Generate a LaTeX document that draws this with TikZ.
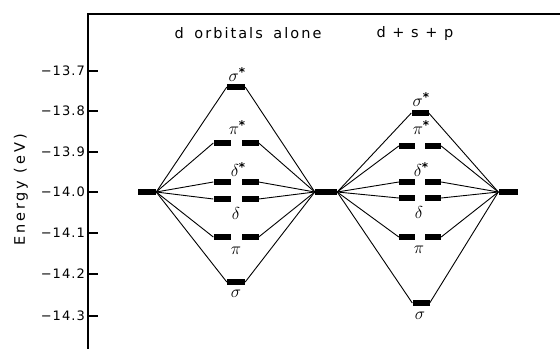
\documentclass[tikz,border=0pt]{standalone}
\usepackage{fontspec}
\setmainfont{DejaVu Sans}
\newfontfamily\lblfont[LetterSpace=8]{DejaVu Sans}
\newfontfamily\ttlfont[LetterSpace=14]{DejaVu Sans}
\newfontfamily\ylfont[LetterSpace=20]{DejaVu Sans}
\newcommand{\st}{\raisebox{5pt}{\fontsize{12}{12}\selectfont\bfseries *}}
\begin{document}
\begin{tikzpicture}[x=1pt,y=-1pt,
  bar/.style={fill=black,draw=none,inner sep=0pt,minimum height=6pt},
  conn/.style={line width=0.9pt},
  ax/.style={line width=1.3pt},
  ticklbl/.style={font=\lblfont\fontsize{13}{15}\selectfont,anchor=east,inner sep=0pt},
  ttl/.style={font=\ttlfont\fontsize{14.5}{16}\selectfont,inner sep=0pt},
  ylbl/.style={font=\ylfont\fontsize{14.5}{16}\selectfont,inner sep=0pt},
  greek/.style={font=\fontsize{16}{18}\selectfont,inner sep=0pt}]
\useasboundingbox (0,0) rectangle (560,349);
% axes
\coordinate (axtop) at (88,14);
\coordinate (axbot) at (88,349);
\coordinate (topr) at (560,14);
\draw[ax] (topr) -- (axtop) -- (axbot);
\foreach \v/\y [count=\i] in {13.7/71,13.8/111,13.9/152,14.0/192,14.1/233,14.2/274,14.3/316}{
  \coordinate (ta\i) at (88,\y);
  \coordinate (tb\i) at (98,\y);
  \draw[ax] (ta\i) -- (tb\i);
  \node[ticklbl] (tl\i) at (85,\y) {−\v};
}
\node[ylbl,rotate=90] (ylab) at (21,190) {Energy (eV)};
\node[ttl] (t1) at (248,33) {d\hspace{4pt} orbitals\hspace{4pt} alone};
\node[ttl] (t2) at (415,33) {d + s + p};
% atom levels
\node[bar,minimum width=18pt] (LA) at (147,192) {};
\node[bar,minimum width=22pt] (M) at (326,192) {};
\node[bar,minimum width=19pt] (RA) at (508,192) {};
% left diagram
\node[bar,minimum width=18pt] (Lss) at (236,87) {};
\node[bar,minimum width=17pt] (Lpsa) at (222,143) {};
\node[bar,minimum width=17pt] (Lpsb) at (250,143) {};
\node[bar,minimum width=17pt] (Ldsa) at (222,182) {};
\node[bar,minimum width=17pt] (Ldsb) at (250,182) {};
\node[bar,minimum width=17pt] (Lda) at (222,199) {};
\node[bar,minimum width=17pt] (Ldb) at (250,199) {};
\node[bar,minimum width=17pt] (Lpa) at (222,237) {};
\node[bar,minimum width=17pt] (Lpb) at (250,237) {};
\node[bar,minimum width=18pt] (Ls) at (236,282) {};
\foreach \a/\b in {Lss/Lss,Lpsa/Lpsb,Ldsa/Ldsb,Lda/Ldb,Lpa/Lpb,Ls/Ls}{
  \draw[conn] (LA.east) -- (\a.west);
  \draw[conn] (\b.east) -- (M.west);
}
% right diagram
\node[bar,minimum width=17pt] (Rss) at (420,113) {};
\node[bar,minimum width=16pt] (Rpsa) at (407,146) {};
\node[bar,minimum width=16pt] (Rpsb) at (433,146) {};
\node[bar,minimum width=16pt] (Rdsa) at (407,182) {};
\node[bar,minimum width=16pt] (Rdsb) at (433,182) {};
\node[bar,minimum width=16pt] (Rda) at (407,198) {};
\node[bar,minimum width=16pt] (Rdb) at (433,198) {};
\node[bar,minimum width=16pt] (Rpa) at (407,237) {};
\node[bar,minimum width=16pt] (Rpb) at (433,237) {};
\node[bar,minimum width=17pt] (Rs) at (421,303) {};
\foreach \a/\b in {Rss/Rss,Rpsa/Rpsb,Rdsa/Rdsb,Rda/Rdb,Rpa/Rpb,Rs/Rs}{
  \draw[conn] (M.east) -- (\a.west);
  \draw[conn] (\b.east) -- (RA.west);
}
% labels
\node[greek] (gLss) at (237,75) {$\sigma$\st};
\node[greek] (gLps) at (237,128) {$\pi$\st};
\node[greek] (gLds) at (238,170) {$\delta$\st};
\node[greek] (gLd) at (236,213) {$\delta$};
\node[greek] (gLp) at (236,251) {$\pi$};
\node[greek] (gLs) at (236,294) {$\sigma$};
\node[greek] (gRss) at (421,100) {$\sigma$\st};
\node[greek] (gRps) at (421,128) {$\pi$\st};
\node[greek] (gRds) at (421,170) {$\delta$\st};
\node[greek] (gRd) at (419,212) {$\delta$};
\node[greek] (gRp) at (419,250) {$\pi$};
\node[greek] (gRs) at (420,316) {$\sigma$};
\end{tikzpicture}
\end{document}
